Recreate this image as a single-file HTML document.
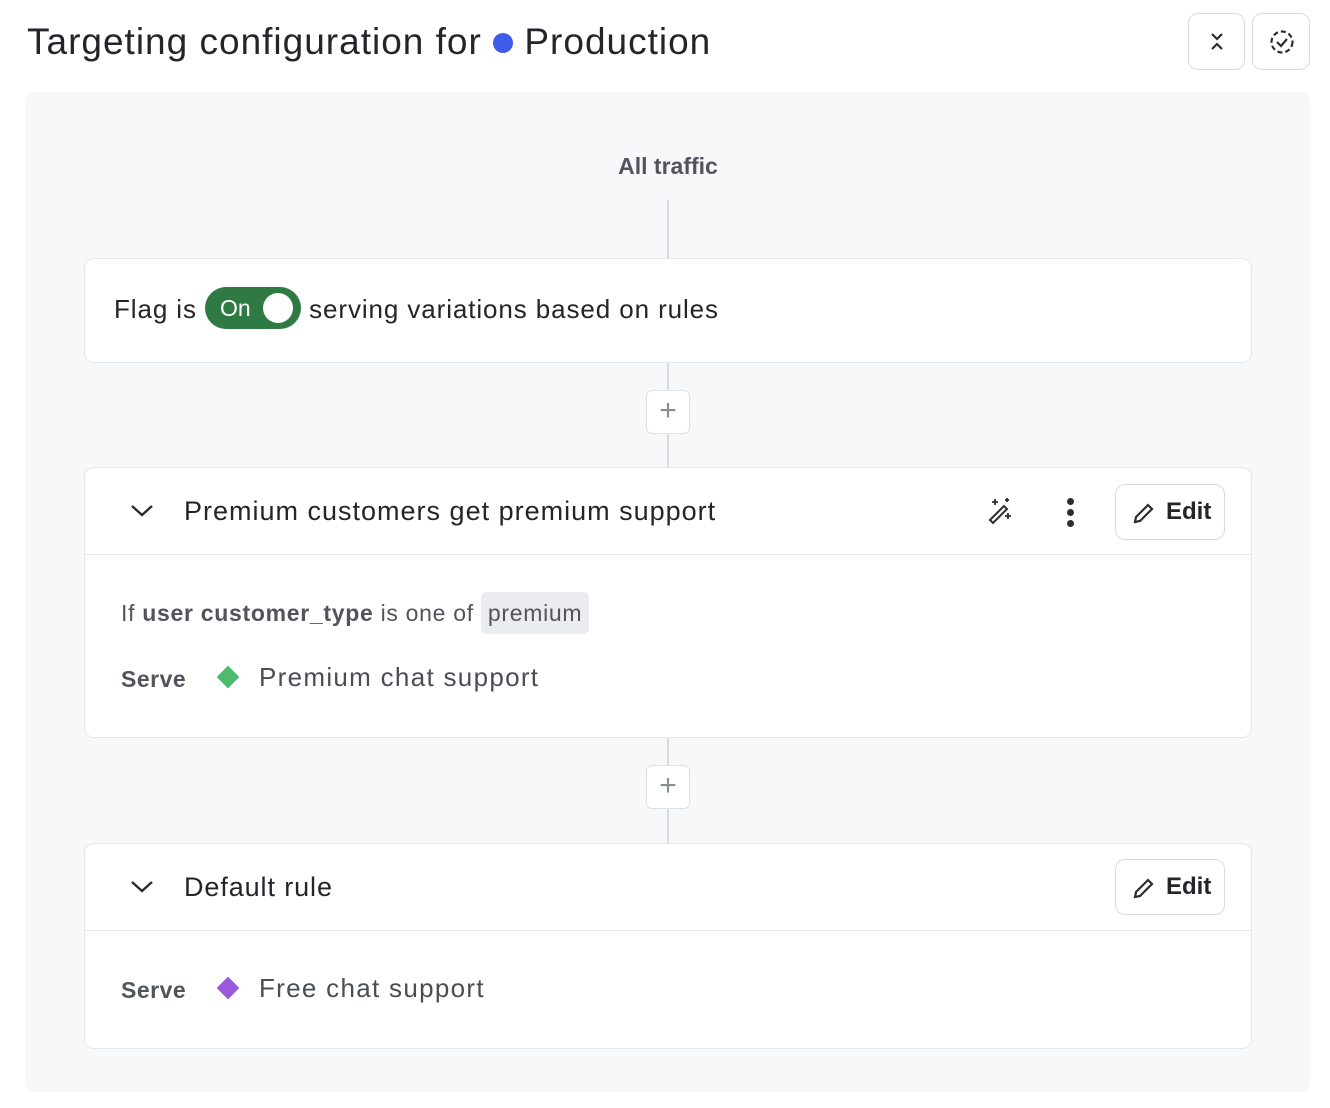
<!DOCTYPE html>
<html><head><style>
body{margin:0;width:1330px;height:1108px;background:#fff;font-family:"Liberation Sans",sans-serif;color:#23252a;position:relative;overflow:hidden}
.a{position:absolute}
.card{position:absolute;left:84px;width:1166px;background:#fff;border:1px solid #e6e7eb;border-radius:10px}
.btn{position:absolute;border:1px solid #d8dae0;border-radius:10px;background:#fff}
.line{position:absolute;left:667px;width:2px;background:#d9dbe0}
.plus{position:absolute;left:646px;width:42px;height:42px;border:1px solid #dfe1e6;border-radius:6px;background:#fff;text-align:center;line-height:40px;font-size:30px;color:#8a8d95}
</style></head><body>
<div class="a" style="left:27px;top:21px;font-size:37px;letter-spacing:1px;white-space:nowrap">Targeting configuration for <span style="display:inline-block;width:20px;height:20px;border-radius:50%;background:#405bea;vertical-align:1px"></span> Production</div>
<div class="btn" style="left:1188px;top:13px;width:55px;height:55px"><svg width="55" height="55"><path d="M23 20l5 5 5-5M23 35l5-5 5 5" stroke="#2b2d33" stroke-width="2.2" fill="none"/></svg></div>
<div class="btn" style="left:1252px;top:13px;width:56px;height:55px"><svg width="56" height="55"><circle cx="29" cy="28" r="10.5" stroke="#2b2d33" stroke-width="2.2" fill="none" stroke-dasharray="5 3"/><path d="M24 28l4 4 6-7" stroke="#2b2d33" stroke-width="2.2" fill="none"/></svg></div>
<div class="a" style="left:25px;top:92px;width:1285px;height:1000px;background:#f7f8fa;border-radius:10px"></div>
<div class="a" style="left:0;width:1336px;top:153px;text-align:center;font-size:23px;font-weight:bold;color:#51545c">All traffic</div>
<div class="line" style="top:200px;height:58px"></div>
<div class="line" style="top:361px;height:106px"></div>
<div class="line" style="top:736px;height:107px"></div>
<div class="plus" style="top:390px">+</div>
<div class="plus" style="top:765px">+</div>
<div class="card" style="top:258px;height:103px">
<div class="a" style="left:29px;top:34px;font-size:26px;white-space:nowrap;letter-spacing:0.9px">Flag is <span style="display:inline-block;width:96px;height:42px;background:#2f7a43;border-radius:21px;vertical-align:middle;position:relative;color:#fff;font-size:23px;line-height:42px;margin-top:-6px;letter-spacing:0"><b style="position:absolute;left:15px;font-weight:normal">On</b><span style="position:absolute;right:8px;top:6px;width:30px;height:30px;border-radius:50%;background:#fff"></span></span> serving variations based on rules</div>
</div>
<div class="card" style="top:467px;height:269px">
<div class="a" style="left:0;top:86px;width:1166px;height:1px;background:#e6e7eb"></div>
<svg class="a" style="left:44px;top:34px" width="26" height="20"><path d="M3 4l10 9 10-9" stroke="#2b2d33" stroke-width="2.4" fill="none"/></svg>
<div class="a" style="left:99px;top:28px;font-size:27px;letter-spacing:1px;white-space:nowrap">Premium customers get premium support</div>
<svg class="a" style="left:900px;top:28px" width="30" height="30"><path d="M5 24l14-14 3 3-14 14z" stroke="#2b2d33" stroke-width="2" fill="none"/><path d="M10 3v6M7 6h6M23 17v6M20 20h6M22 2v4M20 4h4" stroke="#2b2d33" stroke-width="1.8"/></svg>
<div class="a" style="left:982px;top:30px;width:7px;height:7px;border-radius:50%;background:#2b2d33"></div>
<div class="a" style="left:982px;top:41px;width:7px;height:7px;border-radius:50%;background:#2b2d33"></div>
<div class="a" style="left:982px;top:52px;width:7px;height:7px;border-radius:50%;background:#2b2d33"></div>
<div class="btn" style="left:1030px;top:16px;width:108px;height:54px"><svg class="a" style="left:16px;top:16px" width="24" height="24"><path d="M3 21l1-5 12-12 4 4-12 12z" stroke="#2b2d33" stroke-width="2.2" fill="none"/></svg><div class="a" style="left:50px;top:13px;font-size:24px;font-weight:bold">Edit</div></div>
<div class="a" style="left:36px;top:132px;font-size:23px;color:#51545c;white-space:nowrap;letter-spacing:0.7px">If <b>user customer_type</b> is one of <span style="background:#ebecef;border-radius:6px;padding:8px 7px">premium</span></div>
<div class="a" style="left:36px;top:198px;font-size:23px;font-weight:bold;color:#51545c;letter-spacing:0.5px">Serve</div>
<div class="a" style="left:135px;top:201px;width:16px;height:16px;background:#4dbb6c;transform:rotate(45deg)"></div>
<div class="a" style="left:174px;top:194px;font-size:26px;color:#4a4d55;letter-spacing:1.3px;white-space:nowrap">Premium chat support</div>
</div>
<div class="card" style="top:843px;height:204px">
<div class="a" style="left:0;top:86px;width:1166px;height:1px;background:#e6e7eb"></div>
<svg class="a" style="left:44px;top:34px" width="26" height="20"><path d="M3 4l10 9 10-9" stroke="#2b2d33" stroke-width="2.4" fill="none"/></svg>
<div class="a" style="left:99px;top:28px;font-size:27px;letter-spacing:0.9px">Default rule</div>
<div class="btn" style="left:1030px;top:15px;width:108px;height:54px"><svg class="a" style="left:16px;top:16px" width="24" height="24"><path d="M3 21l1-5 12-12 4 4-12 12z" stroke="#2b2d33" stroke-width="2.2" fill="none"/></svg><div class="a" style="left:50px;top:13px;font-size:24px;font-weight:bold">Edit</div></div>
<div class="a" style="left:36px;top:133px;font-size:23px;font-weight:bold;color:#51545c;letter-spacing:0.5px">Serve</div>
<div class="a" style="left:135px;top:136px;width:16px;height:16px;background:#9a59dc;transform:rotate(45deg)"></div>
<div class="a" style="left:174px;top:129px;font-size:26px;color:#4a4d55;letter-spacing:1.3px;white-space:nowrap">Free chat support</div>
</div>
</body></html>
